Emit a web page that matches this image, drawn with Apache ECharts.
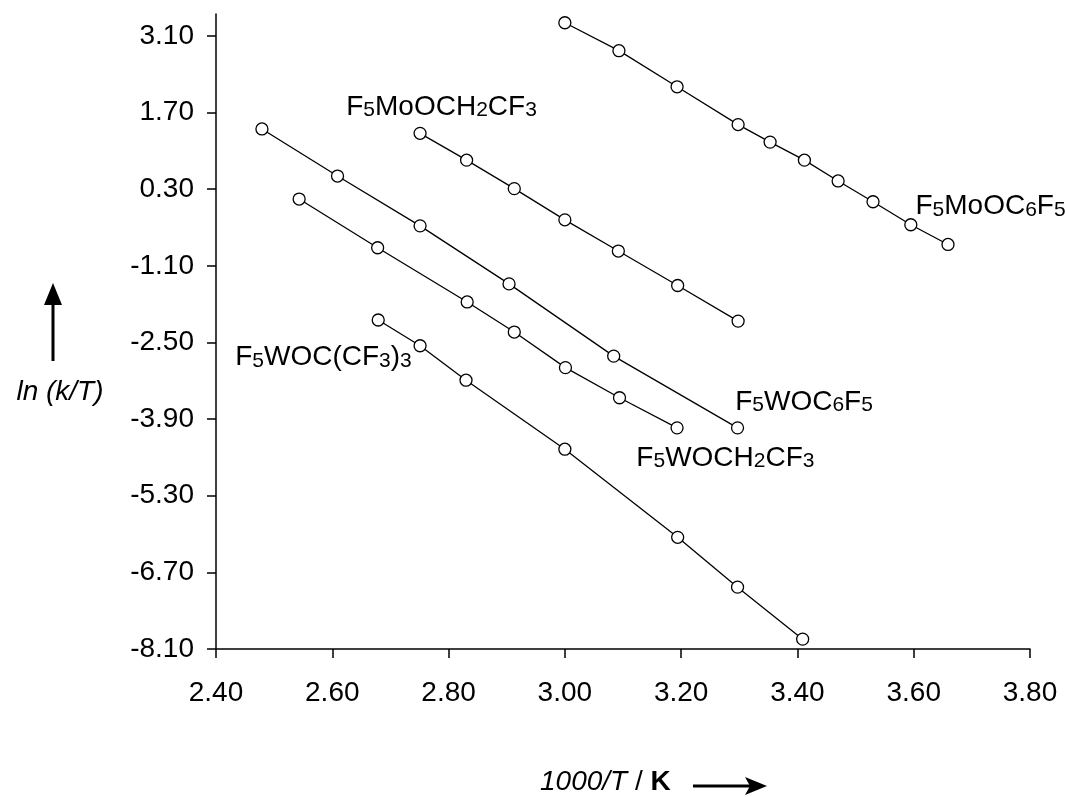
<!DOCTYPE html>
<html>
<head>
<meta charset="utf-8">
<script src="https://cdn.jsdelivr.net/npm/echarts@6/dist/echarts.min.js"></script>
<style>
  html, body { margin: 0; padding: 0; background: #fff; }
  #chart { width: 1065px; height: 797px; }
</style>
</head>
<body>
<div id="chart"></div>
<script>
// ---- Data ----
const xTicks = [2.40, 2.60, 2.80, 3.00, 3.20, 3.40, 3.60, 3.80];
const yTicks = [-8.10, -6.70, -5.30, -3.90, -2.50, -1.10, 0.30, 1.70, 3.10];

const moC6F5_x   = [3.000, 3.093, 3.193, 3.298, 3.353, 3.412, 3.470, 3.530, 3.595, 3.659];
const moC6F5_y   = [3.34, 2.83, 2.17, 1.48, 1.16, 0.83, 0.45, 0.07, -0.35, -0.71];

const moCH2CF3_x = [2.751, 2.831, 2.913, 3.000, 3.092, 3.194, 3.298];
const moCH2CF3_y = [1.32, 0.83, 0.31, -0.26, -0.83, -1.46, -2.11];

const wC6F5_x    = [2.479, 2.609, 2.751, 2.904, 3.084, 3.297];
const wC6F5_y    = [1.40, 0.54, -0.37, -1.43, -2.75, -4.06];

const wCH2CF3_x  = [2.543, 2.678, 2.832, 2.913, 3.001, 3.094, 3.193];
const wCH2CF3_y  = [0.12, -0.77, -1.76, -2.31, -2.96, -3.51, -4.06];

const wCCF3_x    = [2.679, 2.751, 2.830, 3.000, 3.194, 3.297, 3.409];
const wCCF3_y    = [-2.09, -2.56, -3.19, -4.45, -6.06, -6.97, -7.92];

// Series names (rich text with subscripts) and label anchors in data units
const seriesNames = ['F5MoOC6F5', 'F5MoOCH2CF3', 'F5WOC6F5', 'F5WOCH2CF3', 'F5WOC(CF3)3'];
const seriesRich  = [
  '{n|F}{s|5}{n|MoOC}{s|6}{n|F}{s|5}',
  '{n|F}{s|5}{n|MoOCH}{s|2}{n|CF}{s|3}',
  '{n|F}{s|5}{n|WOC}{s|6}{n|F}{s|5}',
  '{n|F}{s|5}{n|WOCH}{s|2}{n|CF}{s|3}',
  '{n|F}{s|5}{n|WOC(CF}{s|3}{n|)}{s|3}'
];
const labelAnchorX = [3.603, 2.624, 3.293, 3.123, 2.433];
const labelAnchorY = [-0.02, 1.80, -3.59, -4.61, -2.78];

// ---- Build ----
const FONT = '"Liberation Sans", Arial, Helvetica, sans-serif';
const zip = (xs, ys) => xs.map((x, i) => [x, ys[i]]);
const seriesData = [
  zip(moC6F5_x, moC6F5_y),
  zip(moCH2CF3_x, moCH2CF3_y),
  zip(wC6F5_x, wC6F5_y),
  zip(wCH2CF3_x, wCH2CF3_y),
  zip(wCCF3_x, wCCF3_y)
];

const chart = echarts.init(document.getElementById('chart'), null, { renderer: 'canvas' });

const option = {
  backgroundColor: '#fff',
  animation: false,
  grid: { left: 216, right: 35, top: 14, bottom: 148, containLabel: false },
  xAxis: {
    type: 'value', min: 2.4, max: 3.8, interval: 0.2,
    axisLine: { show: true, onZero: false, lineStyle: { color: '#000', width: 1.5 } },
    axisTick: { show: true, inside: false, length: 9, customValues: xTicks, lineStyle: { color: '#000', width: 1.5 } },
    axisLabel: {
      show: true, margin: 30, color: '#000', fontSize: 28, fontFamily: FONT,
      customValues: xTicks,
      formatter: v => Number(v).toFixed(2)
    },
    splitLine: { show: false }
  },
  yAxis: {
    type: 'value', min: -8.1, max: 3.5, interval: 1.4,
    axisLine: { show: true, onZero: false, lineStyle: { color: '#000', width: 1.5 } },
    axisTick: { show: true, inside: false, length: 9, customValues: yTicks, lineStyle: { color: '#000', width: 1.5 } },
    axisLabel: {
      show: true, margin: 22, color: '#000', fontSize: 28, fontFamily: FONT,
      customValues: yTicks,
      formatter: v => Number(v).toFixed(2)
    },
    splitLine: { show: false }
  },
  series: seriesData.map((d, i) => ({
    name: seriesNames[i],
    type: 'line',
    data: d,
    symbol: 'circle',
    symbolSize: 12,
    showAllSymbol: true,
    lineStyle: { color: '#000', width: 1.3 },
    itemStyle: { color: '#fff', borderColor: '#000', borderWidth: 1.3 },
    emphasis: { disabled: true },
    z: 3
  }))
};
chart.setOption(option);

// ---- Annotations ----
const richStyles = {
  n: { fontSize: 28, fontFamily: FONT, fill: '#000', lineHeight: 28 },
  s: { fontSize: 21, fontFamily: FONT, fill: '#000', lineHeight: 16, verticalAlign: 'bottom' }
};
const graphics = [];
seriesRich.forEach((txt, i) => {
  const p = chart.convertToPixel({ gridIndex: 0 }, [labelAnchorX[i], labelAnchorY[i]]);
  graphics.push({
    type: 'text', x: p[0], y: p[1], z: 10,
    style: { text: txt, rich: richStyles, align: 'left', verticalAlign: 'middle', fill: '#000' }
  });
});

// Y axis title with upward arrow
graphics.push({
  type: 'text', x: 60, y: 392, z: 10,
  style: { text: 'ln (k/T)', font: 'italic 28px ' + FONT, fill: '#000', align: 'center', verticalAlign: 'middle' }
});
graphics.push({ type: 'line', shape: { x1: 53, y1: 361, x2: 53, y2: 300 }, style: { stroke: '#000', lineWidth: 3 } });
graphics.push({ type: 'polygon', shape: { points: [[53, 283], [44, 305], [62, 305]] }, style: { fill: '#000' } });

// X axis title with right arrow
graphics.push({
  type: 'text', x: 540, y: 782, z: 10,
  style: {
    text: '{i|1000/T}{n| / }{b|K}',
    rich: {
      i: { fontSize: 28, fontFamily: FONT, fontStyle: 'italic', fill: '#000' },
      n: { fontSize: 28, fontFamily: FONT, fill: '#000' },
      b: { fontSize: 28, fontFamily: FONT, fontWeight: 'bold', fill: '#000' }
    },
    align: 'left', verticalAlign: 'middle'
  }
});
graphics.push({ type: 'line', shape: { x1: 693, y1: 786, x2: 752, y2: 786 }, style: { stroke: '#000', lineWidth: 3 } });
graphics.push({ type: 'polygon', shape: { points: [[767, 786], [745, 777], [750, 786], [745, 795]] }, style: { fill: '#000' } });

chart.setOption({ graphic: graphics });
</script>
</body>
</html>
